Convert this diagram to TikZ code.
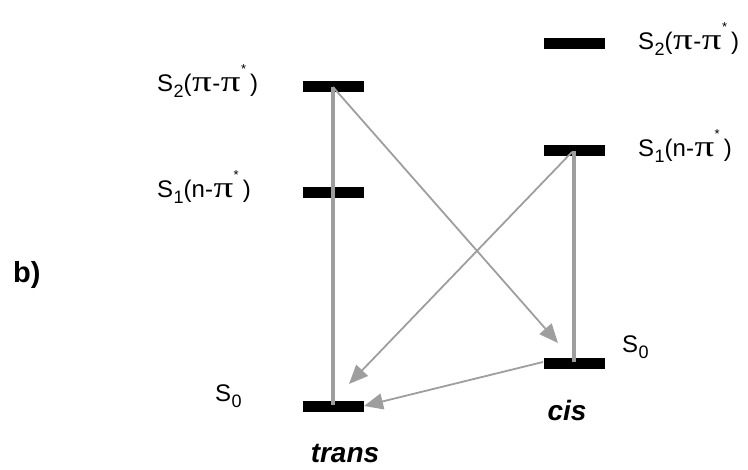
\documentclass[tikz,border=0pt]{standalone}
\usepackage{fontspec}
\setmainfont{Liberation Sans}
\newfontfamily\pifont{Liberation Serif}
\usetikzlibrary{arrows.meta}
\newcommand{\lvlstar}{\raisebox{0.78em}{\fontsize{13}{13}\selectfont *}}
\newcommand{\lvlsub}[1]{\kern0.5pt\raisebox{-0.25em}{\fontsize{18}{18}\selectfont #1}}
\newcommand{\lvlpi}{\kern0.5pt\scalebox{1.3}[1]{\pifont\fontsize{30}{30}\selectfont π}\kern0.5pt}
\begin{document}
\begin{tikzpicture}[x=1pt,y=-1pt,
  level/.style={fill=black, draw=none, minimum width=61pt, minimum height=11pt, inner sep=0pt},
  lbl/.style={anchor=base west, inner sep=0pt, font=\fontsize{24}{26}\selectfont},
  tag/.style={anchor=base, inner sep=0pt, font=\fontsize{28}{30}\selectfont\bfseries\itshape},
  relax/.style={draw={rgb,255:red,158;green,158;blue,158}, line width=3.3pt},
  trans/.style={draw={rgb,255:red,158;green,158;blue,158}, line width=1.8pt,
    -{Triangle[length=19pt,width=16pt,fill={rgb,255:red,158;green,158;blue,158}]}}]
\useasboundingbox (0,0) rectangle (748,470);
% levels
\node[level] (tS2) at (333,87) {};
\node[level] (tS1) at (333,193) {};
\node[level] (tS0) at (333,407) {};
\node[level] (cS2) at (574,44) {};
\node[level] (cS1) at (574,151) {};
\node[level] (cS0) at (574,364) {};
% end points
\coordinate (tS2c) at (333,87);
\coordinate (tS0top) at (333,405);
\coordinate (cS1c) at (574,151);
\coordinate (cS1a) at (572,152);
\coordinate (cS0top) at (574,362);
\coordinate (cS0w) at (543,362);
\coordinate (tipA) at (558,343);
\coordinate (tipB) at (349,384);
\coordinate (tipC) at (364,406);
% connectors
\draw[relax] (tS2c) -- (tS0top);
\draw[relax] (cS1c) -- (cS0top);
\draw[trans] (tS2c) -- (tipA);
\draw[trans] (cS1a) -- (tipB);
\draw[trans] (cS0w) -- (tipC);
% labels
\node[lbl] (lt2) at (157,92) {S\lvlsub{2}(\lvlpi-\lvlpi\lvlstar\kern4pt)};
\node[lbl] (lt1) at (157,198) {S\lvlsub{1}(n-\lvlpi\lvlstar\kern4pt)};
\node[lbl] (lt0) at (215,402) {S\lvlsub{0}};
\node[lbl] (lc2) at (638,50) {S\lvlsub{2}(\lvlpi-\lvlpi\lvlstar\kern4pt)};
\node[lbl] (lc1) at (638,157) {S\lvlsub{1}(n-\lvlpi\lvlstar\kern4pt)};
\node[lbl] (lc0) at (622,353) {S\lvlsub{0}};
\node[tag] (cis) at (567,421) {cis};
\node[tag] (trs) at (345,463) {trans};
\node[lbl, font=\fontsize{29}{30}\selectfont\bfseries] (b) at (13,283) {b)};
\end{tikzpicture}
\end{document}
